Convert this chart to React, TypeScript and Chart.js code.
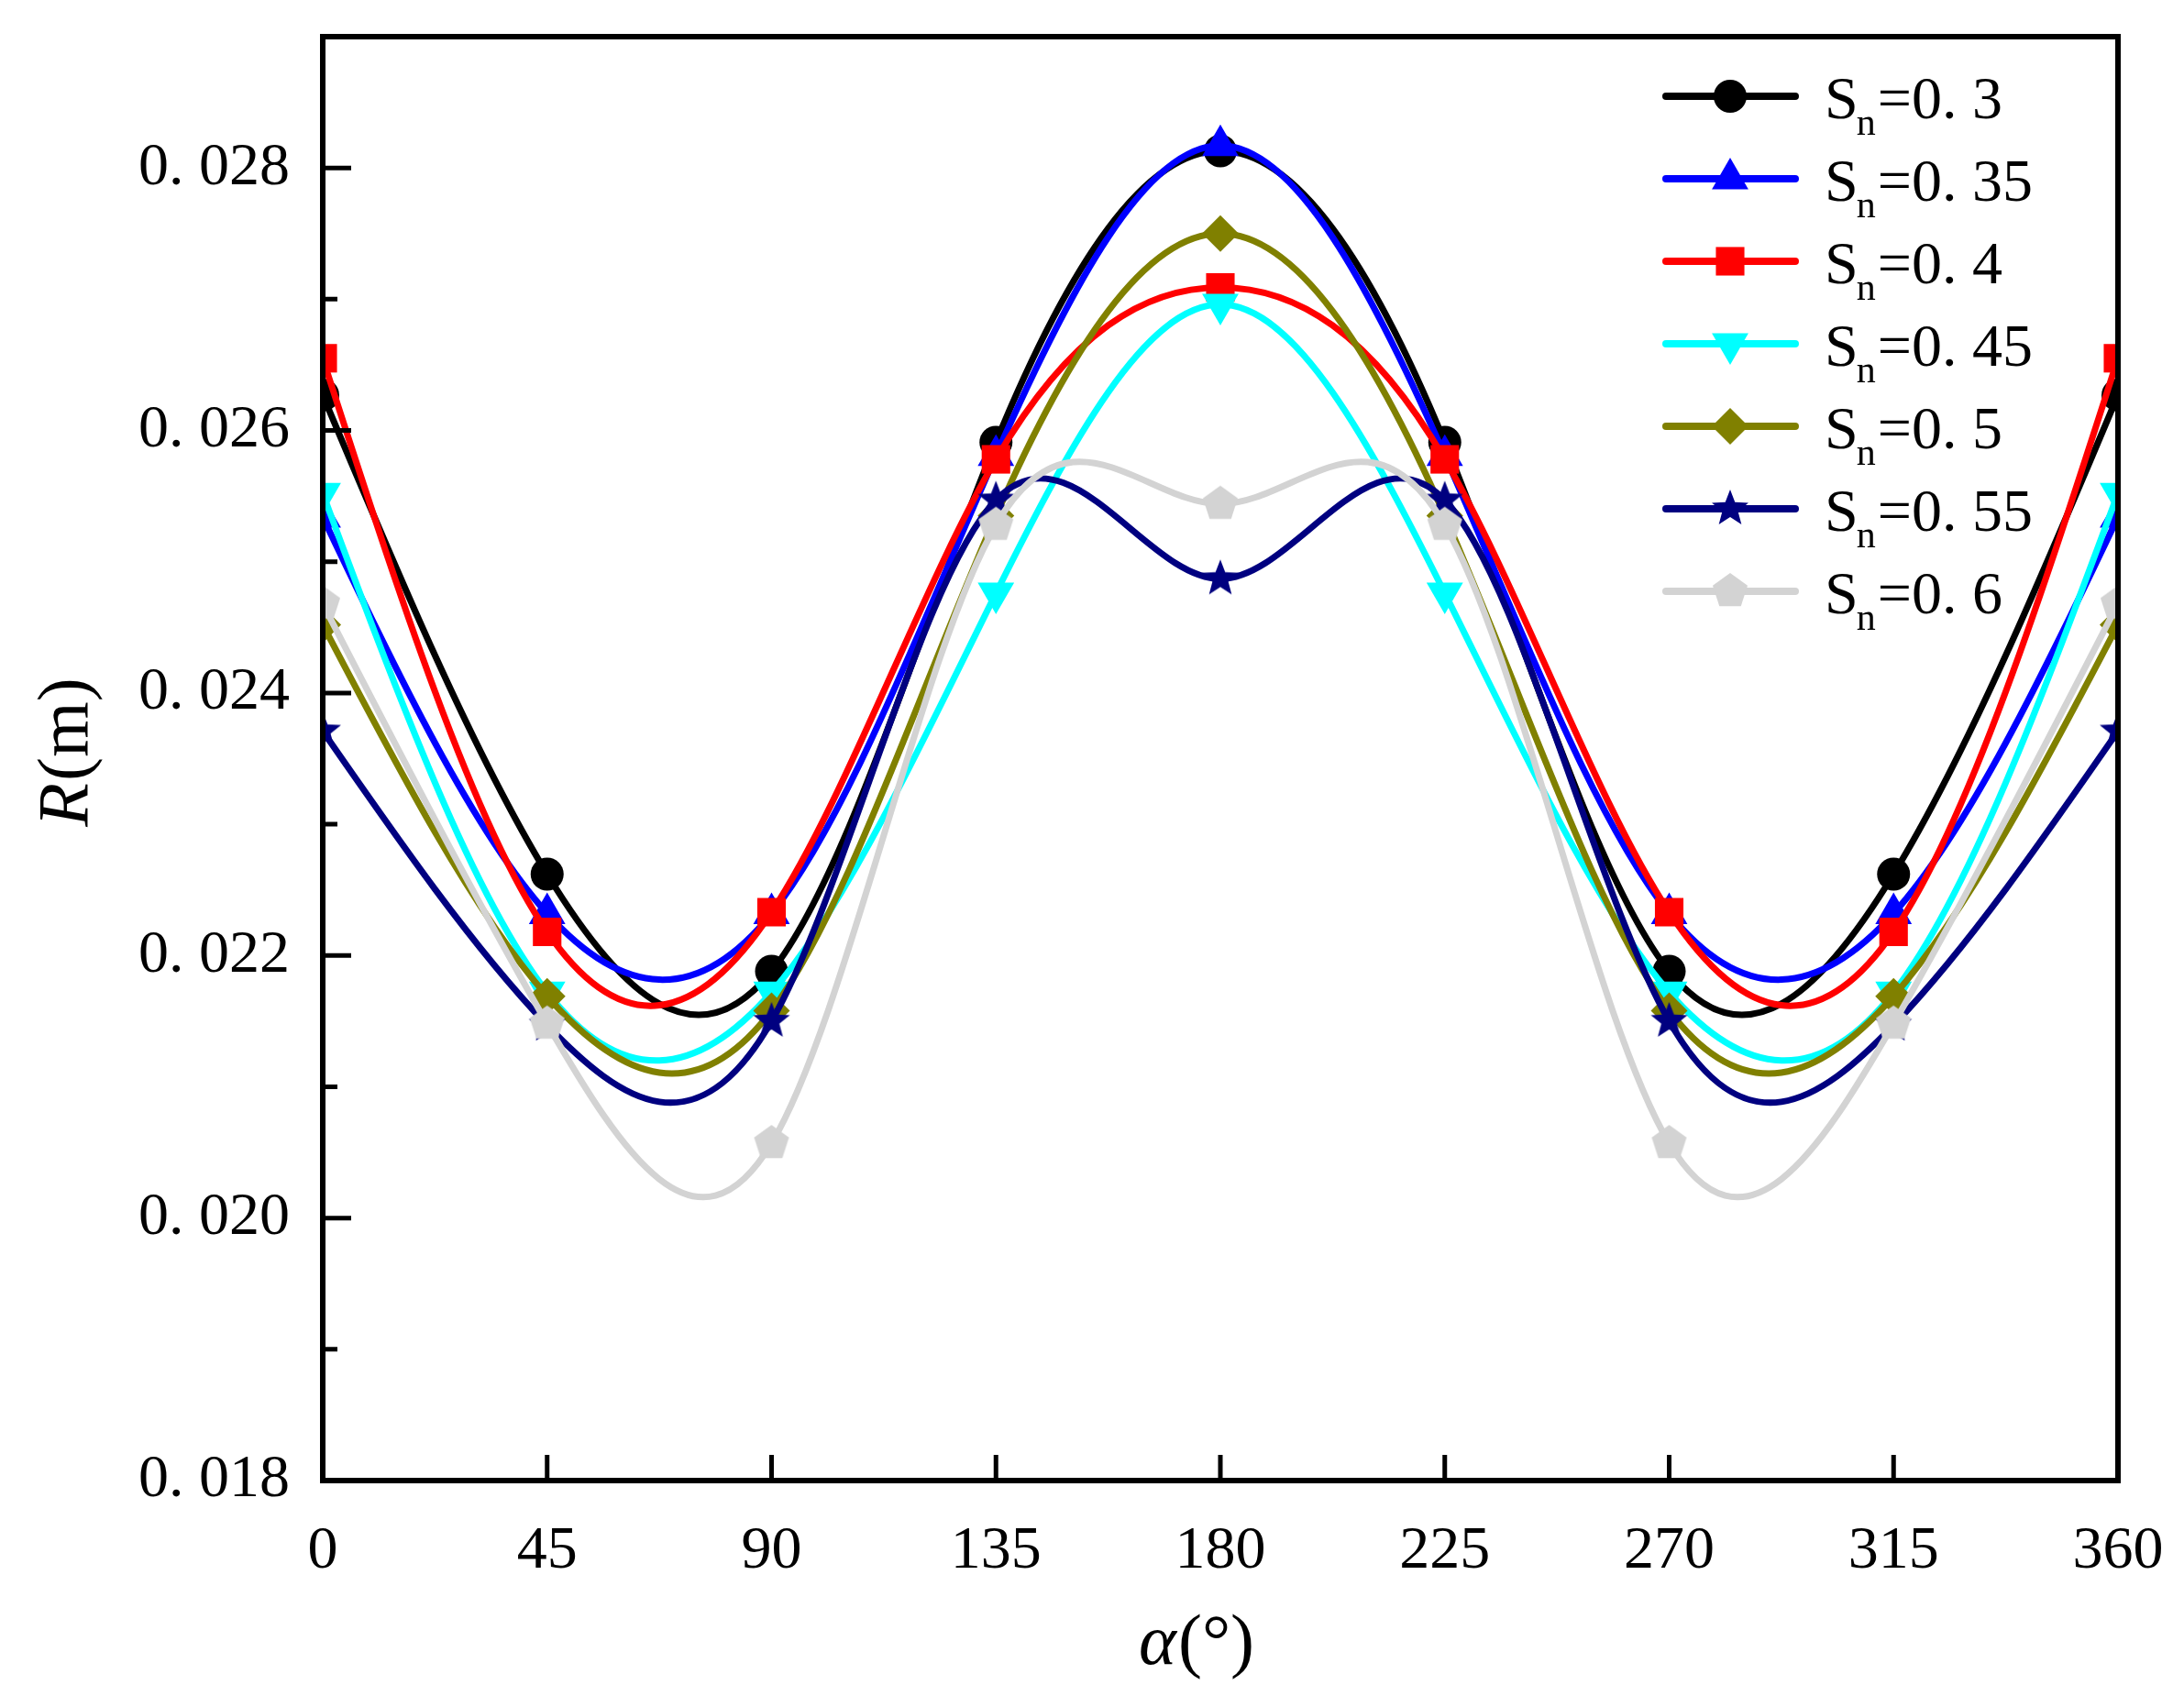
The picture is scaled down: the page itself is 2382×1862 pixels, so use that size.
import { useEffect, useRef } from 'react'
import { Chart, registerables } from 'chart.js'
import { drawPoint } from 'chart.js/helpers'

Chart.register(...registerables)

// angle positions (deg) and the measured radius for each swirl number
const angles = [0, 45, 90, 135, 180, 225, 270, 315, 360]
const sn030 = [0.02627, 0.02262, 0.02188, 0.02591, 0.02813, 0.02591, 0.02188, 0.02262, 0.02627]
const sn035 = [0.02534, 0.02232, 0.02232, 0.02581, 0.02817, 0.02581, 0.02232, 0.02232, 0.02534]
const sn040 = [0.02655, 0.02218, 0.02233, 0.02578, 0.02709, 0.02578, 0.02233, 0.02218, 0.02655]
const sn045 = [0.02552, 0.02172, 0.02172, 0.02476, 0.02696, 0.02476, 0.02172, 0.02172, 0.02552]
const sn050 = [0.02452, 0.02169, 0.02158, 0.02535, 0.0275, 0.02535, 0.02158, 0.02169, 0.02452]
const sn055 = [0.02371, 0.02147, 0.0215, 0.02547, 0.02487, 0.02547, 0.0215, 0.02147, 0.02371]
const sn060 = [0.02468, 0.02148, 0.02057, 0.02528, 0.02544, 0.02528, 0.02057, 0.02148, 0.02468]

const snLabels = ['0. 3', '0. 35', '0. 4', '0. 45', '0. 5', '0. 55', '0. 6']
const yMajorTicks = [0.018, 0.02, 0.022, 0.024, 0.026, 0.028]
const yMinorTicks = [0.019, 0.021, 0.023, 0.025, 0.027]
const xTicks = [0, 45, 90, 135, 180, 225, 270, 315, 360]

const FONT = '"Liberation Serif", "Times New Roman", serif'

function polygonMarker(color: string, outer: number, inner: number | null, n: number) {
  const size = Math.ceil(outer * 2 + 4)
  const c = document.createElement('canvas')
  c.width = size
  c.height = size
  const ctx = c.getContext('2d')!
  ctx.fillStyle = color
  ctx.beginPath()
  const steps = inner ? n * 2 : n
  for (let k = 0; k < steps; k++) {
    const r = inner && k % 2 === 1 ? inner : outer
    const a = -Math.PI / 2 + (k * 2 * Math.PI) / steps
    ctx.lineTo(size / 2 + r * Math.cos(a), size / 2 + r * Math.sin(a))
  }
  ctx.closePath()
  ctx.fill()
  return c
}

const fmtY = (v: number) => '0. ' + String(Math.round(v * 1000)).padStart(3, '0')

// Replace Chart.js' bezier control points with those of a natural cubic
// spline through the same (scaled) points, like the original plotting tool.
const splinePlugin = {
  id: 'naturalSpline',
  beforeDatasetDraw(chart: any, args: any) {
    const meta = args.meta
    const line = meta.dataset
    const pts = meta.data
    if (!line || pts.length < 3) return
    line.updateControlPoints(chart.chartArea, 'x')
    const n = pts.length
    const x = pts.map((p: any) => p.x)
    const y = pts.map((p: any) => p.y)
    const h: number[] = []
    for (let i = 0; i < n - 1; i++) h.push(x[i + 1] - x[i])
    // tridiagonal system for second derivatives, M0 = Mn-1 = 0
    const a = new Array(n).fill(0)
    const b = new Array(n).fill(1)
    const c = new Array(n).fill(0)
    const d = new Array(n).fill(0)
    for (let i = 1; i < n - 1; i++) {
      a[i] = h[i - 1]
      b[i] = 2 * (h[i - 1] + h[i])
      c[i] = h[i]
      d[i] = 6 * ((y[i + 1] - y[i]) / h[i] - (y[i] - y[i - 1]) / h[i - 1])
    }
    for (let i = 1; i < n; i++) {
      const m = a[i] / b[i - 1]
      b[i] -= m * c[i - 1]
      d[i] -= m * d[i - 1]
    }
    const M = new Array(n).fill(0)
    M[n - 1] = d[n - 1] / b[n - 1]
    for (let i = n - 2; i >= 0; i--) M[i] = (d[i] - c[i] * M[i + 1]) / b[i]
    for (let i = 0; i < n - 1; i++) {
      const s0 = (y[i + 1] - y[i]) / h[i] - (h[i] * (2 * M[i] + M[i + 1])) / 6
      const s1 = (y[i + 1] - y[i]) / h[i] + (h[i] * (M[i] + 2 * M[i + 1])) / 6
      pts[i].cp2x = x[i] + h[i] / 3
      pts[i].cp2y = y[i] + (h[i] * s0) / 3
      pts[i + 1].cp1x = x[i + 1] - h[i] / 3
      pts[i + 1].cp1y = y[i + 1] - (h[i] * s1) / 3
    }
  },
}

const decorPlugin = {
  id: 'decor',
  afterDatasetsDraw(chart: any) {
    const { ctx, chartArea } = chart
    const { left, right, top, bottom } = chartArea
    const xs = chart.scales.x
    const ys = chart.scales.y
    ctx.save()
    ctx.strokeStyle = '#000'
    ctx.lineCap = 'butt'
    ctx.lineWidth = 5
    ctx.beginPath()
    for (const v of yMajorTicks) {
      const y = ys.getPixelForValue(v)
      ctx.moveTo(left, y)
      ctx.lineTo(left + 31, y)
    }
    for (const v of yMinorTicks) {
      const y = ys.getPixelForValue(v)
      ctx.moveTo(left, y)
      ctx.lineTo(left + 16, y)
    }
    for (const v of xTicks) {
      const x = xs.getPixelForValue(v)
      ctx.moveTo(x, bottom)
      ctx.lineTo(x, bottom - 28)
    }
    ctx.stroke()
    ctx.lineWidth = 6
    ctx.strokeRect(left, top, right - left, bottom - top)
    ctx.restore()
  },
  afterDraw(chart: any) {
    const { ctx, chartArea } = chart
    ctx.save()
    ctx.fillStyle = '#000'
    ctx.textBaseline = 'alphabetic'

    // x title: alpha(°)
    const big = 78
    ctx.font = `italic ${big}px ${FONT}`
    const wA = ctx.measureText('α').width
    ctx.font = `${big}px ${FONT}`
    const wP = ctx.measureText('(°)').width
    const cx = (chartArea.left + chartArea.right) / 2 - 27
    let x0 = cx - (wA + wP) / 2
    ctx.font = `italic ${big}px ${FONT}`
    ctx.textAlign = 'left'
    ctx.fillText('α', x0, chartArea.bottom + 200)
    ctx.font = `${big}px ${FONT}`
    ctx.fillText('(°)', x0 + wA + 2, chartArea.bottom + 200)

    // y title: R(m)
    ctx.translate(95, (chartArea.top + chartArea.bottom) / 2 - 6)
    ctx.rotate(-Math.PI / 2)
    ctx.font = `italic ${big}px ${FONT}`
    const wR = ctx.measureText('R').width
    ctx.font = `${big}px ${FONT}`
    const wM = ctx.measureText('(m)').width
    x0 = -(wR + wM) / 2
    ctx.font = `italic ${big}px ${FONT}`
    ctx.fillText('R', x0, 0)
    ctx.font = `${big}px ${FONT}`
    ctx.fillText('(m)', x0 + wR + 2, 0)
    ctx.restore()

    // legend
    ctx.save()
    const lx0 = chartArea.right - 493
    const lx1 = chartArea.right - 352
    const mx = chartArea.right - 423
    const tx = chartArea.right - 320
    chart.data.datasets.forEach((ds: any, i: number) => {
      const y = chartArea.top + 65 + i * 90
      ctx.strokeStyle = ds.borderColor
      ctx.lineWidth = 8
      ctx.lineCap = 'round'
      ctx.beginPath()
      ctx.moveTo(lx0, y)
      ctx.lineTo(lx1, y)
      ctx.stroke()
      ctx.fillStyle = ds.pointBackgroundColor
      drawPoint(
        ctx,
        { pointStyle: ds.pointStyle, rotation: ds.pointRotation || 0, radius: ds.pointRadius, borderWidth: 0 },
        mx,
        y,
      )
      ctx.fillStyle = '#000'
      ctx.textAlign = 'left'
      ctx.font = `66px ${FONT}`
      ctx.fillText('S', tx, y + 24)
      const wS = ctx.measureText('S').width
      ctx.font = `42px ${FONT}`
      ctx.fillText('n', tx + wS - 2, y + 42)
      const wn = ctx.measureText('n').width
      ctx.font = `66px ${FONT}`
      ctx.fillText('=' + snLabels[i], tx + wS - 2 + wn + 2, y + 24)
    })
    ctx.restore()
  },
}

export default function App() {
  const canvasRef = useRef<HTMLCanvasElement>(null)

  useEffect(() => {
    if (!canvasRef.current) return
    Chart.defaults.font.family = FONT

    const star = polygonMarker('#000080', 21, 9, 5)
    const pentagon = polygonMarker('#d3d3d3', 20, null, 5)

    const series = [
      { vals: sn030, color: '#000000', style: 'circle', radius: 18 },
      { vals: sn035, color: '#0000ff', style: 'triangle', radius: 23 },
      { vals: sn040, color: '#ff0000', style: 'rect', radius: 22 },
      { vals: sn045, color: '#00ffff', style: 'triangle', radius: 23, rotation: 180 },
      { vals: sn050, color: '#808000', style: 'rectRot', radius: 20 },
      { vals: sn055, color: '#000080', style: star, radius: 20 },
      { vals: sn060, color: '#d3d3d3', style: pentagon, radius: 20 },
    ]

    const chart = new Chart(canvasRef.current, {
      type: 'line',
      data: {
        datasets: series.map((s, i) => ({
          label: 'Sn=' + snLabels[i],
          data: angles.map((a, k) => ({ x: a, y: s.vals[k] })),
          borderColor: s.color,
          backgroundColor: s.color,
          pointBackgroundColor: s.color,
          pointBorderColor: s.color,
          pointBorderWidth: 0,
          pointStyle: s.style as any,
          pointRotation: s.rotation || 0,
          pointRadius: s.radius,
          borderWidth: 7,
          tension: 0.4,
          fill: false,
          clip: 0,
          order: series.length - i,
        })),
      },
      plugins: [splinePlugin, decorPlugin],
      options: {
        responsive: true,
        maintainAspectRatio: false,
        animation: false,
        layout: { padding: { top: 40, right: 72, left: 0, bottom: 0 } },
        plugins: { legend: { display: false }, tooltip: { enabled: false } },
        scales: {
          x: {
            type: 'linear',
            min: 0,
            max: 360,
            afterBuildTicks: (scale: any) => {
              scale.ticks = xTicks.map((v) => ({ value: v }))
            },
            afterFit: (scale: any) => {
              scale.height = 247
              scale.paddingLeft = 0
              scale.paddingRight = 0
            },
            grid: { display: false, drawTicks: false },
            border: { display: false },
            ticks: {
              color: '#000',
              font: { size: 66, family: FONT },
              padding: 38,
              maxRotation: 0,
              autoSkip: false,
              callback: (v: any) => String(v),
            },
          },
          y: {
            type: 'linear',
            min: 0.018,
            max: 0.029,
            afterBuildTicks: (scale: any) => {
              scale.ticks = yMajorTicks.map((v) => ({ value: v }))
            },
            afterFit: (scale: any) => {
              scale.width = 352
              scale.paddingTop = 0
              scale.paddingBottom = 0
            },
            grid: { display: false, drawTicks: false },
            border: { display: false },
            ticks: {
              color: '#000',
              font: { size: 66, family: FONT },
              padding: 36,
              autoSkip: false,
              callback: (v: any) => fmtY(Number(v)),
            },
          },
        },
      },
    })

    return () => {
      chart.destroy()
    }
  }, [])

  return (
    <div style={{ position: 'absolute', left: 0, top: 0, width: 2382, height: 1862, background: '#fff' }}>
      <canvas ref={canvasRef} role="img" aria-label="R versus alpha for several Sn values" />
    </div>
  )
}
